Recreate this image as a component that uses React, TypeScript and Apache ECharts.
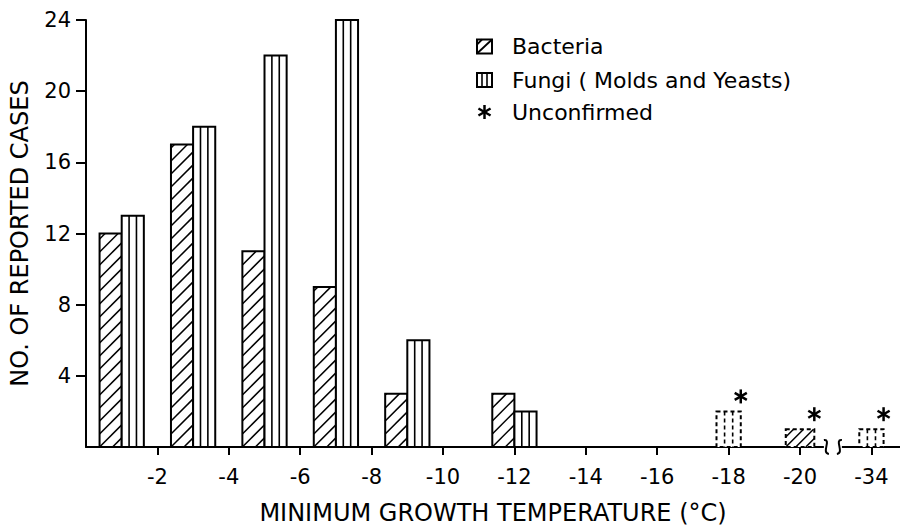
import React, { useEffect, useRef } from "react";
import * as echarts from "echarts";

// ---- data ----
const groupTemps = [-1, -3, -5, -7, -9, -12, -18, -20, -34];
const bacteriaCases = [12, 17, 11, 9, 3, 3, 0, 1, 0];
const fungiCases = [13, 18, 22, 24, 6, 2, 2, 0, 1];
const unconfirmedFlags = [0, 0, 0, 0, 0, 0, 1, 1, 1];
const xTickTemps = [-2, -4, -6, -8, -10, -12, -14, -16, -18, -20, -34];
const xTickLabels = ["-2", "-4", "-6", "-8", "-10", "-12", "-14", "-16", "-18", "-20", "-34"];
const yTickValues = [4, 8, 12, 16, 20, 24];
const legendLabels = ["Bacteria", "Fungi ( Molds and Yeasts)", "Unconfirmed"];

// broken temperature scale: -20 is followed directly by -34
const BREAK_AFTER = -20;
const RESUME_AT = -34;
const BREAK_STEP = 2;
function tempToPos(t: number): number {
  return t >= BREAK_AFTER ? -t : -BREAK_AFTER + BREAK_STEP + (RESUME_AT - t);
}

const FONT = "DejaVu Sans";
const BAR_W = 0.62;
const SINGLE_W = 0.68;

function makeRenderItem(kind: "bacteria" | "fungi") {
  return (params: any, api: any) => {
    const c = api.value(0) as number;
    const v = api.value(1) as number;
    const paired = api.value(2) as number;
    const unc = api.value(3) as number;
    if (!v) return { type: "group", children: [] };
    const w = paired ? BAR_W : kind === "bacteria" ? SINGLE_W + 0.12 : SINGLE_W;
    const left = paired ? (kind === "bacteria" ? c - w : c) : c - w / 2;
    const pBL = api.coord([left, 0]);
    const pTR = api.coord([left + w, v]);
    const x0 = pBL[0], x1 = pTR[0], yB = pBL[1], yT = pTR[1];
    const wpx = x1 - x0;
    const dash = unc ? [4, 3] : null;
    const children: any[] = [];
    children.push({
      type: "rect",
      shape: { x: x0, y: yT, width: wpx, height: yB - yT },
      style: { fill: "#fff", stroke: "#000", lineWidth: 2, lineDash: dash },
    });
    if (kind === "fungi") {
      for (let k = 1; k <= 2; k++) {
        const xx = x0 + (wpx * k) / 3;
        children.push({
          type: "line",
          shape: { x1: xx, y1: yT, x2: xx, y2: yB },
          style: { stroke: "#000", lineWidth: 1.6, lineDash: dash },
        });
      }
    } else {
      const s = unc ? 10 : 13;
      let start = yB;
      while (start - s > yT) start -= s;
      for (let b = start; b < yB + wpx; b += s) {
        const xs = Math.max(0, b - yB);
        const xe = Math.min(wpx, b - yT);
        if (xe - xs > 0.5) {
          children.push({
            type: "line",
            shape: { x1: x0 + xs, y1: b - xs, x2: x0 + xe, y2: b - xe },
            style: { stroke: "#000", lineWidth: 1.5 },
          });
        }
      }
    }
    if (unc) {
      const sx = x1, sy = yT - 15, r = 7;
      [90, 30, 150].forEach((deg) => {
        const a = (deg * Math.PI) / 180;
        children.push({
          type: "line",
          shape: { x1: sx - r * Math.cos(a), y1: sy - r * Math.sin(a), x2: sx + r * Math.cos(a), y2: sy + r * Math.sin(a) },
          style: { stroke: "#000", lineWidth: 2.5 },
        });
      });
    }
    return { type: "group", children };
  };
}

function legendGraphic(): any[] {
  const lx = 477;
  const rows = [46.5, 80, 112];
  const tx = 512;
  const items: any[] = [];
  // bacteria icon
  items.push({ type: "rect", shape: { x: lx, y: rows[0] - 7, width: 15, height: 14 }, style: { fill: "#fff", stroke: "#000", lineWidth: 2 } });
  items.push({ type: "line", shape: { x1: lx, y1: rows[0] + 7, x2: lx + 15, y2: rows[0] - 7 }, style: { stroke: "#000", lineWidth: 1.8 } });
  items.push({ type: "line", shape: { x1: lx, y1: rows[0] - 2, x2: lx + 5, y2: rows[0] - 7 }, style: { stroke: "#000", lineWidth: 1.8 } });
  // fungi icon
  items.push({ type: "rect", shape: { x: lx, y: rows[1] - 7, width: 15, height: 14 }, style: { fill: "#fff", stroke: "#000", lineWidth: 2 } });
  [5, 10].forEach((dx) =>
    items.push({ type: "line", shape: { x1: lx + dx, y1: rows[1] - 7, x2: lx + dx, y2: rows[1] + 7 }, style: { stroke: "#000", lineWidth: 1.6 } })
  );
  // asterisk
  [90, 30, 150].forEach((deg) => {
    const a = (deg * Math.PI) / 180, r = 7, cx = lx + 7.5, cy = rows[2];
    items.push({
      type: "line",
      shape: { x1: cx - r * Math.cos(a), y1: cy - r * Math.sin(a), x2: cx + r * Math.cos(a), y2: cy + r * Math.sin(a) },
      style: { stroke: "#000", lineWidth: 2.5 },
    });
  });
  legendLabels.forEach((label, i) => {
    items.push({
      type: "text",
      x: tx,
      y: rows[i],
      style: { text: label, font: `22px '${FONT}'`, fill: "#000", verticalAlign: "middle", align: "left" },
    });
  });
  return items;
}

export default function App() {
  const ref = useRef<HTMLDivElement>(null);
  useEffect(() => {
    const chart = echarts.init(ref.current!, null, { renderer: "svg" });
    const xPositions = xTickTemps.map(tempToPos);
    const groupPos = groupTemps.map(tempToPos);
    const bacteriaData = groupTemps.map((t, i) => [groupPos[i], bacteriaCases[i], bacteriaCases[i] && fungiCases[i] ? 1 : 0, unconfirmedFlags[i]]);
    const fungiData = groupTemps.map((t, i) => [groupPos[i], fungiCases[i], bacteriaCases[i] && fungiCases[i] ? 1 : 0, unconfirmedFlags[i]]);
    const tickText = { color: "#000", fontFamily: FONT, fontSize: 21 };
    const titleText = { color: "#000", fontFamily: FONT, fontSize: 24 };
    chart.setOption({
      animation: false,
      backgroundColor: "#fff",
      grid: { left: 86, right: 0, top: 20, bottom: 80, containLabel: false, outerBoundsMode: "none" },
      xAxis: {
        type: "value",
        min: 0,
        max: 22.8,
        name: "MINIMUM GROWTH TEMPERATURE (°C)",
        nameLocation: "middle",
        nameGap: 54,
        nameTextStyle: { ...titleText },
        axisLine: { show: true, onZero: false, lineStyle: { color: "#000", width: 2 } },
        axisTick: { show: true, customValues: xPositions, length: 8, lineStyle: { color: "#000", width: 2 } },
        axisLabel: {
          ...tickText,
          customValues: xPositions,
          margin: 19,
          formatter: (v: number) => {
            const i = xPositions.findIndex((p) => Math.abs(p - v) < 1e-6);
            return i >= 0 ? xTickLabels[i] : "";
          },
        },
        splitLine: { show: false },
      },
      yAxis: {
        type: "value",
        min: 0,
        max: 24,
        interval: 4,
        name: "NO. OF REPORTED CASES",
        nameLocation: "middle",
        nameGap: 54,
        nameRotate: 90,
        nameTextStyle: { ...titleText },
        axisLine: { show: true, lineStyle: { color: "#000", width: 2 } },
        axisTick: { show: true, customValues: yTickValues, length: 10, lineStyle: { color: "#000", width: 2 } },
        axisLabel: { ...tickText, customValues: yTickValues, margin: 15 },
        splitLine: { show: false },
      },
      series: [
        { type: "custom", name: "Bacteria", renderItem: makeRenderItem("bacteria"), data: bacteriaData, z: 5 },
        { type: "custom", name: "Fungi", renderItem: makeRenderItem("fungi"), data: fungiData, z: 5 },
      ],
    });
    const bx = chart.convertToPixel({ xAxisIndex: 0 } as any, (tempToPos(BREAK_AFTER) + tempToPos(RESUME_AT)) / 2 - 0.08) as any as number;
    const by = chart.convertToPixel({ yAxisIndex: 0 } as any, 0) as any as number;
    const breakEls: any[] = [
      { type: "rect", z: 100, shape: { x: bx - 9, y: by - 3, width: 18, height: 6 }, style: { fill: "#fff" } },
      {
        type: "bezierCurve", z: 101,
        shape: { x1: bx - 9, y1: by - 7, cpx1: bx - 1, cpy1: by - 8, cpx2: bx - 12, cpy2: by + 6, x2: bx - 4, y2: by + 7 },
        style: { stroke: "#000", lineWidth: 2, fill: "none" },
      },
      {
        type: "bezierCurve", z: 101,
        shape: { x1: bx + 9, y1: by - 7, cpx1: bx + 1, cpy1: by - 8, cpx2: bx + 12, cpy2: by + 6, x2: bx + 4, y2: by + 7 },
        style: { stroke: "#000", lineWidth: 2, fill: "none" },
      },
    ];
    chart.setOption({ graphic: [...legendGraphic(), ...breakEls] });
    return () => chart.dispose();
  }, []);
  return <div ref={ref} style={{ position: "absolute", left: 0, top: 0, width: 900, height: 527 }} />;
}
